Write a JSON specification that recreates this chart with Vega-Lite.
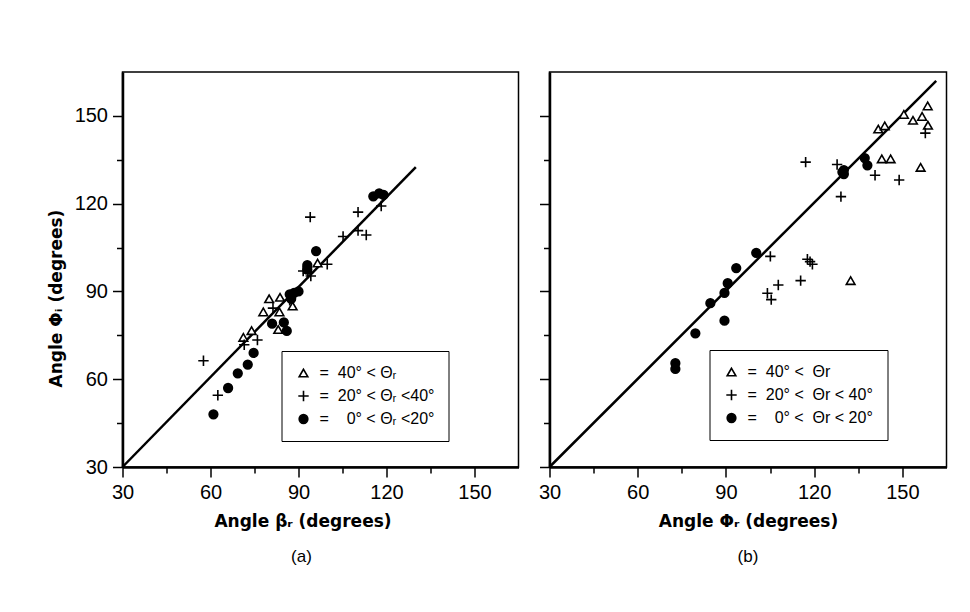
{
  "$schema": "https://vega.github.io/schema/vega-lite/v6.json",
  "background": "white",
  "padding": {"left": 45.5, "top": 71, "right": 5, "bottom": 5},
  "datasets": {
    "pointsA": [
      {"x": 61, "y": 48, "cat": "dot"}, {"x": 66, "y": 57, "cat": "dot"}, {"x": 69.3, "y": 62, "cat": "dot"},
      {"x": 72.7, "y": 65, "cat": "dot"}, {"x": 74.7, "y": 69, "cat": "dot"}, {"x": 81, "y": 79, "cat": "dot"},
      {"x": 85, "y": 79.4, "cat": "dot"}, {"x": 86, "y": 76.5, "cat": "dot"}, {"x": 87, "y": 89, "cat": "dot"},
      {"x": 88.5, "y": 89.5, "cat": "dot"}, {"x": 90, "y": 90, "cat": "dot"}, {"x": 87.5, "y": 87.5, "cat": "dot"},
      {"x": 93, "y": 99, "cat": "dot"}, {"x": 93, "y": 97.5, "cat": "dot"}, {"x": 96, "y": 103.8, "cat": "dot"},
      {"x": 115.5, "y": 122.5, "cat": "dot"}, {"x": 117.5, "y": 123.5, "cat": "dot"}, {"x": 119, "y": 123, "cat": "dot"},
      {"x": 71.2, "y": 74.3, "cat": "tri"}, {"x": 74, "y": 76.6, "cat": "tri"}, {"x": 78, "y": 83, "cat": "tri"},
      {"x": 80, "y": 87.5, "cat": "tri"}, {"x": 83.7, "y": 88, "cat": "tri"}, {"x": 83.5, "y": 83, "cat": "tri"},
      {"x": 83.1, "y": 77, "cat": "tri"}, {"x": 88, "y": 85, "cat": "tri"}, {"x": 96.5, "y": 99.7, "cat": "tri"},
      {"x": 57.6, "y": 66.3, "cat": "plus"}, {"x": 62.5, "y": 54.5, "cat": "plus"}, {"x": 71.5, "y": 71.8, "cat": "plus"},
      {"x": 76, "y": 73.4, "cat": "plus"}, {"x": 81.3, "y": 84.3, "cat": "plus"}, {"x": 94, "y": 115.4, "cat": "plus"},
      {"x": 110.3, "y": 117.1, "cat": "plus"}, {"x": 105.2, "y": 108.8, "cat": "plus"}, {"x": 110.3, "y": 110.8, "cat": "plus"},
      {"x": 113.1, "y": 109.3, "cat": "plus"}, {"x": 118.2, "y": 119.2, "cat": "plus"}, {"x": 99.8, "y": 99.3, "cat": "plus"},
      {"x": 91.6, "y": 97, "cat": "plus"}, {"x": 94.2, "y": 95.3, "cat": "plus"}, {"x": 93.2, "y": 96.3, "cat": "plus"},
      {"x": 87, "y": 87, "cat": "plus"}
    ],
    "pointsB": [
      {"x": 72.8, "y": 65.5, "cat": "dot"}, {"x": 72.8, "y": 63.5, "cat": "dot"}, {"x": 79.6, "y": 75.7, "cat": "dot"},
      {"x": 89.5, "y": 80, "cat": "dot"}, {"x": 84.7, "y": 86, "cat": "dot"}, {"x": 89.5, "y": 89.5, "cat": "dot"},
      {"x": 90.6, "y": 92.8, "cat": "dot"}, {"x": 93.5, "y": 98, "cat": "dot"}, {"x": 100.3, "y": 103.2, "cat": "dot"},
      {"x": 130.1, "y": 131.5, "cat": "dot"}, {"x": 130.1, "y": 130.1, "cat": "dot"}, {"x": 129.6, "y": 130.8, "cat": "dot"},
      {"x": 137.2, "y": 135.6, "cat": "dot"}, {"x": 138.1, "y": 133.1, "cat": "dot"},
      {"x": 158.6, "y": 153.4, "cat": "tri"}, {"x": 150.5, "y": 150.5, "cat": "tri"}, {"x": 153.6, "y": 148.5, "cat": "tri"},
      {"x": 156.7, "y": 149.8, "cat": "tri"}, {"x": 158.7, "y": 146.8, "cat": "tri"}, {"x": 141.8, "y": 145.5, "cat": "tri"},
      {"x": 144, "y": 146.6, "cat": "tri"}, {"x": 143, "y": 135.3, "cat": "tri"}, {"x": 146, "y": 135.3, "cat": "tri"},
      {"x": 156.2, "y": 132.4, "cat": "tri"}, {"x": 132.4, "y": 93.7, "cat": "tri"},
      {"x": 157.8, "y": 144.1, "cat": "plus"}, {"x": 117.1, "y": 134.2, "cat": "plus"}, {"x": 127.8, "y": 133.4, "cat": "plus"},
      {"x": 140.7, "y": 129.7, "cat": "plus"}, {"x": 148.9, "y": 128.1, "cat": "plus"}, {"x": 129.1, "y": 122.4, "cat": "plus"},
      {"x": 105.1, "y": 102, "cat": "plus"}, {"x": 117.7, "y": 101, "cat": "plus"}, {"x": 119.4, "y": 99.3, "cat": "plus"},
      {"x": 118.6, "y": 100.2, "cat": "plus"}, {"x": 115.4, "y": 93.7, "cat": "plus"}, {"x": 107.8, "y": 92.2, "cat": "plus"},
      {"x": 104.1, "y": 89.4, "cat": "plus"}, {"x": 105.4, "y": 87.2, "cat": "plus"}
    ],
    "lineA": [{"x": 30, "y": 30}, {"x": 130, "y": 132.5}],
    "lineB": [{"x": 30, "y": 30}, {"x": 161.5, "y": 162}]
  },
  "hconcat": [
    {
      "width": 396,
      "height": 395,
      "title": {"text": "(a)", "orient": "bottom", "anchor": "middle", "dx": -19, "offset": 20, "fontSize": 17, "fontWeight": "normal", "font": "Liberation Sans", "color": "black"},
      "layer": [
        {
          "data": {"name": "lineA"},
          "mark": {"type": "line", "color": "black", "strokeWidth": 2.5},
          "encoding": {
            "x": {"field": "x", "type": "quantitative", "scale": {"domain": [30, 165], "nice": false, "zero": false},
              "axis": {"values": [30, 45, 60, 75, 90, 105, 120, 135, 150], "labelExpr": "datum.value % 30 === 0 ? datum.label : ''",
                "tickSize": {"condition": {"test": "datum.value % 30 === 0", "value": 10}, "value": 6},
                "labelPadding": 5, "labelFlush": false, "title": "Angle βᵣ (degrees)", "titleX": 180, "titlePadding": 11}},
            "y": {"field": "y", "type": "quantitative", "scale": {"domain": [30, 165], "nice": false, "zero": false},
              "axis": {"values": [30, 45, 60, 75, 90, 105, 120, 135, 150], "labelExpr": "datum.value % 30 === 0 ? datum.label : ''",
                "tickSize": {"condition": {"test": "datum.value % 30 === 0", "value": 10}, "value": 6},
                "labelPadding": 5, "labelFlush": false, "title": "Angle Φᵢ (degrees)", "titlePadding": 9, "titleY": 226}}
          }
        },
        {
          "data": {"name": "pointsA"},
          "mark": {"type": "point", "strokeWidth": 1.6, "size": 75, "opacity": 1},
          "encoding": {
            "x": {"field": "x", "type": "quantitative"},
            "y": {"field": "y", "type": "quantitative"},
            "shape": {"field": "cat", "type": "nominal",
              "scale": {"domain": ["tri", "plus", "dot"], "range": ["triangle-up", "M-1.2,0H1.2M0,-1.2V1.2", "circle"]},
              "legend": {"title": null, "orient": "none", "legendX": 159, "legendY": 279,
                "labelExpr": "datum.label === 'tri' ? '= \u00a040° < Θᵣ' : datum.label === 'plus' ? '= \u00a020° < Θᵣ <40°' : '= \u00a0\u00a0\u00a00° < Θᵣ <20°\u00a0\u00a0'"}},
            "fill": {"field": "cat", "type": "nominal",
              "scale": {"domain": ["tri", "plus", "dot"], "range": ["white", "black", "black"]},
              "legend": {"title": null, "orient": "none", "legendX": 159, "legendY": 279,
                "labelExpr": "datum.label === 'tri' ? '= \u00a040° < Θᵣ' : datum.label === 'plus' ? '= \u00a020° < Θᵣ <40°' : '= \u00a0\u00a0\u00a00° < Θᵣ <20°\u00a0\u00a0'"}},
            "stroke": {"field": "cat", "type": "nominal",
              "scale": {"domain": ["tri", "plus", "dot"], "range": ["black", "black", "black"]},
              "legend": {"title": null, "orient": "none", "legendX": 159, "legendY": 279,
                "labelExpr": "datum.label === 'tri' ? '= \u00a040° < Θᵣ' : datum.label === 'plus' ? '= \u00a020° < Θᵣ <40°' : '= \u00a0\u00a0\u00a00° < Θᵣ <20°\u00a0\u00a0'"}}
          }
        }
      ]
    },
    {
      "width": 397,
      "height": 395,
      "title": {"text": "(b)", "orient": "bottom", "anchor": "middle", "offset": 20, "fontSize": 17, "fontWeight": "normal", "font": "Liberation Sans", "color": "black"},
      "layer": [
        {
          "data": {"name": "lineB"},
          "mark": {"type": "line", "color": "black", "strokeWidth": 2.5},
          "encoding": {
            "x": {"field": "x", "type": "quantitative", "scale": {"domain": [30, 165], "nice": false, "zero": false},
              "axis": {"values": [30, 45, 60, 75, 90, 105, 120, 135, 150], "labelExpr": "datum.value % 30 === 0 ? datum.label : ''",
                "tickSize": {"condition": {"test": "datum.value % 30 === 0", "value": 10}, "value": 6},
                "labelPadding": 5, "labelFlush": false, "title": "Angle Φᵣ (degrees)", "titlePadding": 11}},
            "y": {"field": "y", "type": "quantitative", "scale": {"domain": [30, 165], "nice": false, "zero": false},
              "axis": {"values": [30, 45, 60, 75, 90, 105, 120, 135, 150], "labels": false, "title": null,
                "tickSize": {"condition": {"test": "datum.value % 30 === 0", "value": 10}, "value": 6}}}
          }
        },
        {
          "data": {"name": "pointsB"},
          "mark": {"type": "point", "strokeWidth": 1.6, "size": 75, "opacity": 1},
          "encoding": {
            "x": {"field": "x", "type": "quantitative"},
            "y": {"field": "y", "type": "quantitative"},
            "shape": {"field": "cat", "type": "nominal",
              "scale": {"domain": ["tri", "plus", "dot"], "range": ["triangle-up", "M-1.2,0H1.2M0,-1.2V1.2", "circle"]},
              "legend": {"title": null, "orient": "none", "legendX": 160, "legendY": 278,
                "labelExpr": "datum.label === 'tri' ? '= \u00a040° < \u00a0Θr' : datum.label === 'plus' ? '= \u00a020° < \u00a0Θr < 40°' : '= \u00a0\u00a0\u00a00° < \u00a0Θr < 20°'"}},
            "fill": {"field": "cat", "type": "nominal",
              "scale": {"domain": ["tri", "plus", "dot"], "range": ["white", "black", "black"]},
              "legend": {"title": null, "orient": "none", "legendX": 160, "legendY": 278,
                "labelExpr": "datum.label === 'tri' ? '= \u00a040° < \u00a0Θr' : datum.label === 'plus' ? '= \u00a020° < \u00a0Θr < 40°' : '= \u00a0\u00a0\u00a00° < \u00a0Θr < 20°'"}},
            "stroke": {"field": "cat", "type": "nominal",
              "scale": {"domain": ["tri", "plus", "dot"], "range": ["black", "black", "black"]},
              "legend": {"title": null, "orient": "none", "legendX": 160, "legendY": 278,
                "labelExpr": "datum.label === 'tri' ? '= \u00a040° < \u00a0Θr' : datum.label === 'plus' ? '= \u00a020° < \u00a0Θr < 40°' : '= \u00a0\u00a0\u00a00° < \u00a0Θr < 20°'"}}
          }
        }
      ]
    }
  ],
  "spacing": 18,
  "resolve": {
    "scale": {"x": "independent", "y": "independent", "shape": "independent", "fill": "independent", "stroke": "independent"},
    "legend": {"shape": "independent", "fill": "independent", "stroke": "independent"}
  },
  "config": {
    "font": "Liberation Sans",
    "view": {"stroke": "black", "strokeWidth": 1.5},
    "axis": {
      "grid": false, "domainColor": "black", "domainWidth": 2.5, "tickColor": "black", "tickWidth": 1.5,
      "labelColor": "black", "labelFont": "Liberation Sans", "labelFontSize": 20,
      "titleColor": "black", "titleFont": "DejaVu Sans", "titleFontSize": 17, "titleFontWeight": "bold"
    },
    "legend": {
      "strokeColor": "black", "fillColor": "white", "padding": 14, "rowPadding": 6,
      "labelFont": "Liberation Sans", "labelFontSize": 16, "labelColor": "black", "labelOffset": 8,
      "symbolSize": 75, "symbolStrokeWidth": 1.6, "labelLimit": 300
    }
  }
}
